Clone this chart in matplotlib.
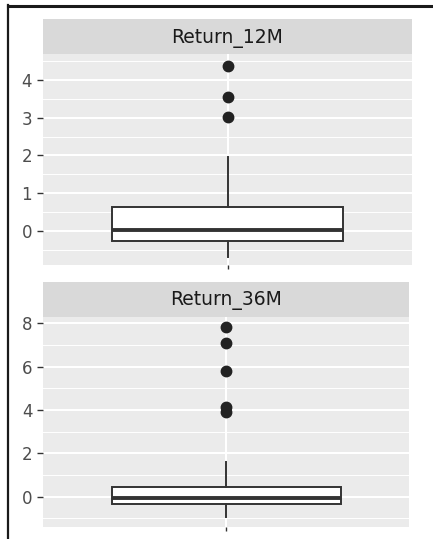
import numpy as np
import matplotlib
matplotlib.use("Agg")
import matplotlib.pyplot as plt
from matplotlib.lines import Line2D
from matplotlib.ticker import MultipleLocator

# facet names and box stats
facets = ["Return_12M", "Return_36M"]
whis_lo = [-0.68, -0.95]
q1 = [-0.26, -0.34]
med = [0.03, -0.07]
q3 = [0.63, 0.43]
whis_hi = [1.97, 1.61]
outliers = [[3.02, 3.55, 4.37], [3.90, 4.12, 5.81, 7.08, 7.81]]
y_limits = [(-0.90, 4.68), (-1.40, 8.30)]
major_step = [1, 2]

W, H = 433, 539
fig = plt.figure(figsize=(W / 100, H / 100), dpi=100)
fig.patch.set_facecolor("white")

def px_box(x0, x1, y0, y1):
    # pixel box (top-left origin) -> figure fraction rect
    return [x0 / W, 1 - y1 / H, (x1 - x0) / W, (y1 - y0) / H]

panels = [
    {"strip": px_box(43, 412, 19.3, 54.3), "ax": px_box(43, 412, 54.3, 265)},
    {"strip": px_box(43.3, 409.3, 281.7, 316.7), "ax": px_box(43.3, 409.3, 316.7, 527)},
]

for i, name in enumerate(facets):
    # strip on top
    sax = fig.add_axes(panels[i]["strip"])
    sax.set_facecolor("#d9d9d9")
    sax.set_xticks([])
    sax.set_yticks([])
    for s in sax.spines.values():
        s.set_visible(False)
    sax.text(0.5, 0.45, name, ha="center", va="center", fontsize=13.5,
             color="#1a1a1a", transform=sax.transAxes)

    ax = fig.add_axes(panels[i]["ax"])
    ax.set_facecolor("#ebebeb")
    for s in ax.spines.values():
        s.set_visible(False)

    stats = [{
        "whislo": whis_lo[i], "q1": q1[i], "med": med[i], "q3": q3[i],
        "whishi": whis_hi[i], "fliers": outliers[i],
    }]
    ax.bxp(stats, positions=[1], widths=0.75, patch_artist=True, zorder=3,
           boxprops=dict(facecolor="white", edgecolor="#333333", linewidth=1.4),
           medianprops=dict(color="#333333", linewidth=2.8, solid_capstyle="butt"),
           whiskerprops=dict(color="#333333", linewidth=1.4),
           capprops=dict(linewidth=0),
           flierprops=dict(marker="o", markerfacecolor="#222222",
                           markeredgecolor="#222222", markersize=7.5))

    ax.set_xlim(0.4, 1.6)
    ax.set_ylim(*y_limits[i])
    ax.yaxis.set_major_locator(MultipleLocator(major_step[i]))
    ax.yaxis.set_minor_locator(MultipleLocator(major_step[i] / 2))
    ax.set_xticks([1])
    ax.set_xticklabels([""])
    ax.grid(True, which="major", color="white", linewidth=1.5, zorder=0)
    ax.grid(True, which="minor", axis="y", color="white", linewidth=0.7, zorder=0)
    ax.set_axisbelow(True)
    ax.tick_params(axis="y", which="major", length=4.3, width=1.0, color="#333333",
                   pad=3.5, labelsize=12, labelcolor="#4d4d4d")
    ax.tick_params(axis="y", which="minor", length=0)
    ax.tick_params(axis="x", which="major", length=3, width=1.0, color="#333333", pad=1)
    ax.yaxis.set_major_formatter(plt.FuncFormatter(lambda v, p: f"{v:g}"))

# black frame round the screenshot (top and left edges)
fig.add_artist(Line2D([8 / W, 432 / W], [1 - 6 / H, 1 - 6 / H], color="#1a1a1a",
                      linewidth=2.2, transform=fig.transFigure))
fig.add_artist(Line2D([8 / W, 8 / W], [1 - 5 / H, 0], color="#1a1a1a",
                      linewidth=1.6, transform=fig.transFigure))

fig.savefig("out.png", dpi=100)
